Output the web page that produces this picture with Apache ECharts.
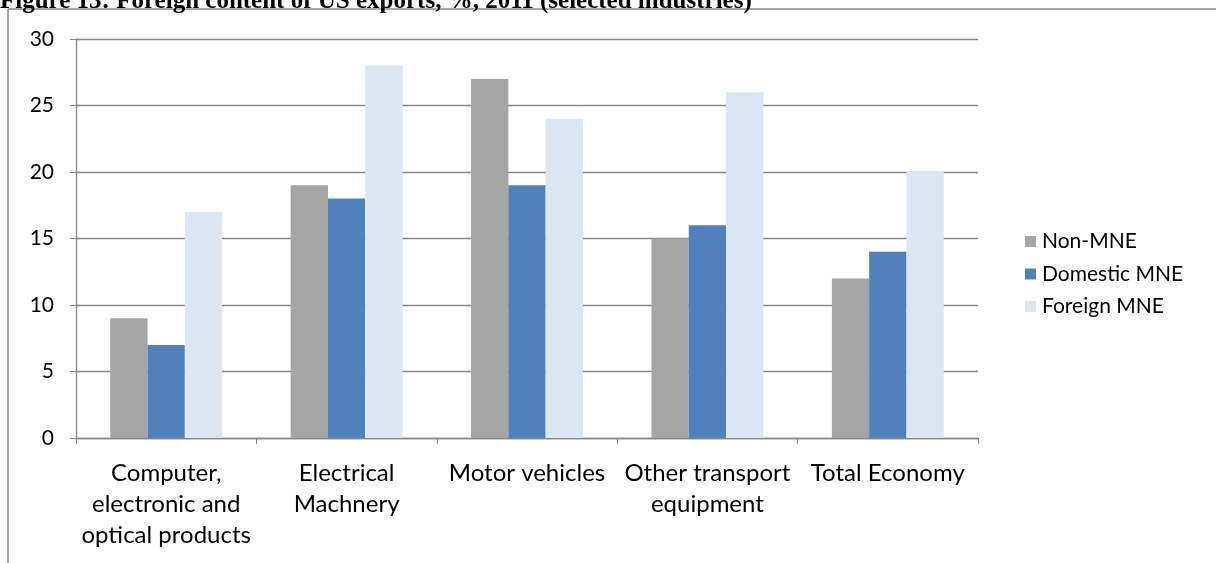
<!DOCTYPE html>
<html>
<head>
<meta charset="utf-8">
<script src="https://cdn.jsdelivr.net/npm/echarts@6/dist/echarts.min.js"></script>
<style>
html,body{margin:0;padding:0;background:#fff;}
#chart{width:1216px;height:563px;}
</style>
</head>
<body>
<div id="chart"></div>
<script>
const categories = ["Computer,\nelectronic and\noptical products", "Electrical\nMachnery", "Motor vehicles", "Other transport\nequipment", "Total Economy"];
const seriesNames = ["Non-MNE", "Domestic MNE", "Foreign MNE"];
const nonMNE = [9, 19, 27, 15, 12];
const domesticMNE = [7, 18, 19, 16, 14];
const foreignMNE = [17, 28, 24, 26, 20];
const yTicks = [0, 5, 10, 15, 20, 25, 30];
const colors = ["#A5A5A5", "#4F81BD", "#DCE6F2"];

const chart = echarts.init(document.getElementById('chart'));
const font = 'Lato, "Open Sans", sans-serif';
const serif = '"Liberation Serif", "Times New Roman", serif';
chart.setOption({
  animation: false,
  color: colors,
  grid: {left: 76, right: 238, top: 39, bottom: 125},
  graphic: [
    {type: 'line', shape: {x1: 8, y1: 9, x2: 8, y2: 563}, style: {stroke: '#8a8a8a', lineWidth: 1.5}},
    {type: 'line', shape: {x1: 8, y1: 9, x2: 1216, y2: 9}, style: {stroke: '#8a8a8a', lineWidth: 1.5}},
    {type: 'text', left: 0, top: -11, style: {
      text: 'Figure 13: Foreign content of US exports, %, 2011 (selected industries)',
      fontFamily: serif, fontWeight: 'bold', fontSize: 25, fill: '#000'
    }}
  ],
  legend: {
    orient: 'vertical', left: 1020, top: 224,
    itemWidth: 11, itemHeight: 11, itemGap: 7.5,
    icon: 'rect',
    textStyle: {fontFamily: font, fontSize: 21, color: '#000', lineHeight: 25, padding: [0,0,0,1]},
    data: seriesNames
  },
  xAxis: {
    type: 'category', data: categories,
    axisLine: {lineStyle: {color: '#868686', width: 1.3}},
    axisTick: {show: true, length: 6, lineStyle: {color: '#868686'}},
    axisLabel: {fontFamily: font, fontSize: 24, color: '#000', lineHeight: 31, margin: 20, interval: 0}
  },
  yAxis: {
    type: 'value', min: 0, max: 30, interval: 5,
    axisLine: {show: true, lineStyle: {color: '#868686', width: 1.3}},
    axisTick: {show: true, length: 6, lineStyle: {color: '#868686'}},
    splitLine: {lineStyle: {color: '#868686', width: 1.3}},
    axisLabel: {fontFamily: font, fontSize: 21, color: '#000', margin: 22,
      formatter: v => yTicks.includes(v) ? String(v) : ''}
  },
  series: [
    {name: seriesNames[0], type: 'bar', data: nonMNE, barGap: '0%', barCategoryGap: '38%'},
    {name: seriesNames[1], type: 'bar', data: domesticMNE},
    {name: seriesNames[2], type: 'bar', data: foreignMNE}
  ]
});
</script>
</body>
</html>
